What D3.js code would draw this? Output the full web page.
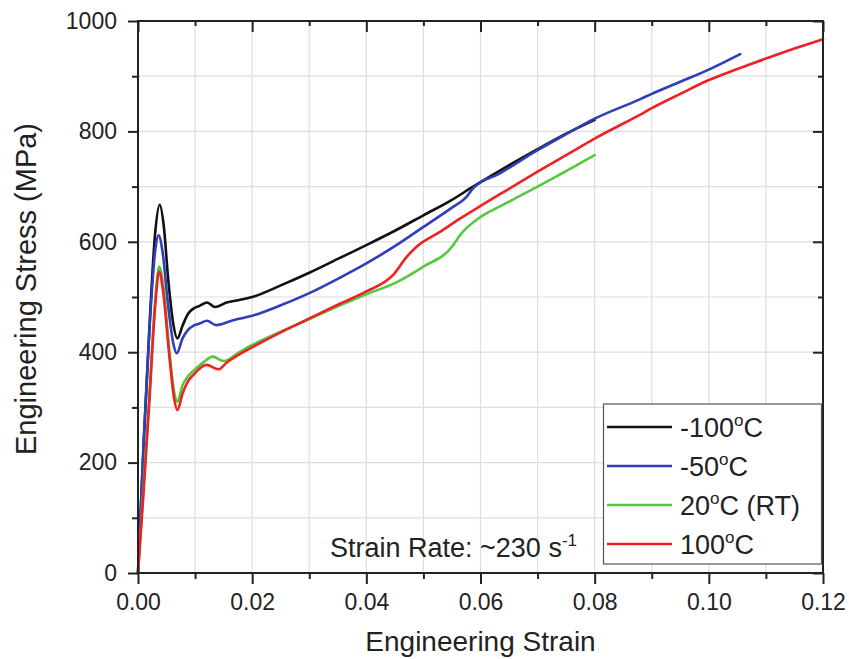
<!DOCTYPE html>
<html>
<head>
<meta charset="utf-8">
<script src="https://cdn.jsdelivr.net/npm/d3@7"></script>
<style>
  html, body { margin: 0; padding: 0; background: #fff; }
  svg { display: block; font-family: "Liberation Sans", Arial, Helvetica, sans-serif; }
</style>
</head>
<body>
<svg id="chart" width="849" height="659"></svg>
<script>
// ---------------- data ----------------
const xMajorTicks = [0.00, 0.02, 0.04, 0.06, 0.08, 0.10, 0.12];
const xMinorTicks = [0.01, 0.03, 0.05, 0.07, 0.09, 0.11];
const yMajorTicks = [0, 200, 400, 600, 800, 1000];
const yMinorTicks = [100, 300, 500, 700, 900];

const seriesNames  = ["-100", "-50", "20", "100"];
const seriesSuffix = ["C", "C", "C (RT)", "C"];
const seriesColors = ["#111111", "#2e3fb8", "#52c93f", "#ee2222"];

// [engineering strain, engineering stress (MPa)]
const curveM100 = [
  [0,0],[0.001,235],[0.002,445],[0.003,615],[0.0038,667],[0.0045,630],[0.0053,531],
  [0.0062,450],[0.0069,425],[0.0078,448],[0.0088,470],[0.0097,479],[0.0108,484],
  [0.0121,490],[0.0135,482],[0.0155,490],[0.0179,495],[0.02,500],[0.025,521],
  [0.03,544],[0.035,569],[0.04,594],[0.045,620],[0.05,648],[0.055,676],[0.0587,700],
  [0.0634,729],[0.07,768],[0.075,796],[0.08,821]
];
const curveM50 = [
  [0,0],[0.001,240],[0.002,440],[0.003,583],[0.0036,612],[0.0043,582],[0.0053,482],
  [0.0062,415],[0.0068,398],[0.0078,425],[0.0088,441],[0.0097,448],[0.0108,452],
  [0.0121,457],[0.0137,449],[0.0167,458],[0.02,466],[0.025,485],[0.03,507],
  [0.035,533],[0.04,561],[0.045,592],[0.05,627],[0.055,662],[0.0576,682],[0.0587,697],
  [0.0634,724],[0.07,766],[0.075,795],[0.08,823],[0.0879,858],[0.09,868],[0.095,890],
  [0.1,912],[0.1055,940]
];
const curve20 = [
  [0,0],[0.001,160],[0.002,325],[0.003,492],[0.0037,555],[0.0044,522],[0.0055,402],
  [0.0063,330],[0.0069,310],[0.0078,340],[0.0088,357],[0.0097,366],[0.0115,382],
  [0.0131,392],[0.015,384],[0.0179,401],[0.02,413],[0.025,437],[0.03,460],[0.035,483],
  [0.04,505],[0.045,525],[0.05,555],[0.055,591],[0.0564,612],[0.06,645],[0.0634,664],
  [0.07,700],[0.075,728],[0.08,757]
];
const curve100 = [
  [0,0],[0.001,150],[0.002,312],[0.003,482],[0.0037,546],[0.0044,510],[0.0055,392],
  [0.0063,318],[0.0069,295],[0.0078,325],[0.0088,348],[0.0097,359],[0.012,377],
  [0.0141,369],[0.0155,381],[0.0179,397],[0.02,409],[0.025,436],[0.03,461],[0.035,486],
  [0.04,510],[0.0447,540],[0.0471,573],[0.0488,591],[0.0529,618],[0.0564,642],
  [0.06,665],[0.065,696],[0.07,727],[0.075,757],[0.08,787],[0.0879,830],[0.09,842],
  [0.095,868],[0.1,893],[0.105,913],[0.11,932],[0.115,950],[0.12,967]
];
const allCurves = [curveM100, curveM50, curve20, curve100];

const annotationText = "Strain Rate: ~230 s";
const annotationSup = "-1";
const xTitle = "Engineering Strain";
const yTitle = "Engineering Stress (MPa)";

// ---------------- layout ----------------
const margin = { left: 138, top: 21, right: 26, bottom: 86 };
const W = 849, H = 659;
const svg = d3.select("#chart");
const x = d3.scaleLinear().domain([0, 0.12]).range([margin.left, W - margin.right]);
const y = d3.scaleLinear().domain([0, 1000]).range([H - margin.bottom, margin.top]);
const x0 = x.range()[0], x1 = x.range()[1], y0 = y.range()[0], y1 = y.range()[1];

// grid
const grid = svg.append("g").attr("stroke", "#dedede").attr("stroke-width", 1.2);
grid.selectAll("line.vx").data(xMajorTicks.concat(xMinorTicks).filter(d => d > 0 && d < 0.12))
  .join("line").attr("x1", d => x(d)).attr("x2", d => x(d)).attr("y1", y1).attr("y2", y0);
grid.selectAll("line.hy").data(yMajorTicks.concat(yMinorTicks).filter(d => d > 0 && d < 1000))
  .join("line").attr("x1", x0).attr("x2", x1).attr("y1", d => y(d)).attr("y2", d => y(d));

// curves
const line = d3.line().x(d => x(d[0])).y(d => y(d[1])).curve(d3.curveMonotoneX);
const curvesG = svg.append("g").attr("clip-path", null);
// draw in order so red/green appear on top like the reference
[0, 1, 2, 3].forEach(i => {
  curvesG.append("path").datum(allCurves[i])
    .attr("d", line).attr("fill", "none")
    .attr("stroke", seriesColors[i]).attr("stroke-width", 2.6)
    .attr("stroke-linejoin", "round").attr("stroke-linecap", "round");
});

// axes
const axisColor = "#222";
function styleAxis(g) {
  g.select(".domain").remove();
  g.selectAll("line").attr("stroke", axisColor).attr("stroke-width", 2);
  g.selectAll("text").attr("fill", "#222").style("font-size", "23px")
    .style("font-family", '"Liberation Sans", Arial, sans-serif');
}
svg.append("g").attr("transform", `translate(0,${y0})`)
  .call(d3.axisBottom(x).tickValues(xMajorTicks).tickFormat(d3.format(".2f")).tickSize(11).tickPadding(10))
  .call(styleAxis);
svg.append("g").attr("transform", `translate(0,${y0})`)
  .call(d3.axisBottom(x).tickValues(xMinorTicks).tickFormat("").tickSize(6))
  .call(styleAxis);
svg.append("g").attr("transform", `translate(0,${y1})`)
  .call(d3.axisTop(x).tickValues(xMajorTicks).tickFormat("").tickSize(-11))
  .call(styleAxis);
svg.append("g").attr("transform", `translate(0,${y1})`)
  .call(d3.axisTop(x).tickValues(xMinorTicks).tickFormat("").tickSize(-5))
  .call(styleAxis);
svg.append("g").attr("transform", `translate(${x0},0)`)
  .call(d3.axisLeft(y).tickValues(yMajorTicks).tickFormat(d3.format("d")).tickSize(10).tickPadding(11))
  .call(styleAxis);
svg.append("g").attr("transform", `translate(${x0},0)`)
  .call(d3.axisLeft(y).tickValues(yMinorTicks).tickFormat("").tickSize(6))
  .call(styleAxis);
svg.append("g").attr("transform", `translate(${x1},0)`)
  .call(d3.axisRight(y).tickValues(yMajorTicks).tickFormat("").tickSize(-10))
  .call(styleAxis);
svg.append("g").attr("transform", `translate(${x1},0)`)
  .call(d3.axisRight(y).tickValues(yMinorTicks).tickFormat("").tickSize(-5))
  .call(styleAxis);

// frame
svg.append("rect").attr("x", x0).attr("y", y1).attr("width", x1 - x0).attr("height", y0 - y1)
  .attr("fill", "none").attr("stroke", axisColor).attr("stroke-width", 2);

// axis titles
svg.append("text").attr("x", (x0 + x1) / 2).attr("y", 651)
  .attr("text-anchor", "middle").style("font-size", "28px").attr("fill", "#222").text(xTitle);
svg.append("text").attr("transform", `translate(36,289) rotate(-90)`)
  .attr("text-anchor", "middle").style("font-size", "29px").attr("fill", "#222").text(yTitle);

// annotation
const ann = svg.append("text").attr("x", 330).attr("y", 557).style("font-size", "27px").attr("fill", "#222");
ann.append("tspan").text(annotationText);
ann.append("tspan").attr("dy", -11).style("font-size", "17px").text(annotationSup);

// legend
const lg = svg.append("g");
lg.append("rect").attr("x", 603.5).attr("y", 404).attr("width", 218).attr("height", 160)
  .attr("fill", "#fff").attr("stroke", "#555").attr("stroke-width", 1.2);
const rowY = [427, 466, 505, 544];
seriesNames.forEach((nm, i) => {
  lg.append("line").attr("x1", 607).attr("x2", 672).attr("y1", rowY[i]).attr("y2", rowY[i])
    .attr("stroke", seriesColors[i]).attr("stroke-width", 2.6);
  const t = lg.append("text").attr("x", 680).attr("y", rowY[i] + 10)
    .style("font-size", "27px").attr("fill", "#222");
  t.append("tspan").text(nm);
  t.append("tspan").attr("dy", -11).style("font-size", "17px").text("o");
  t.append("tspan").attr("dy", 11).text(seriesSuffix[i]);
});
</script>
</body>
</html>
